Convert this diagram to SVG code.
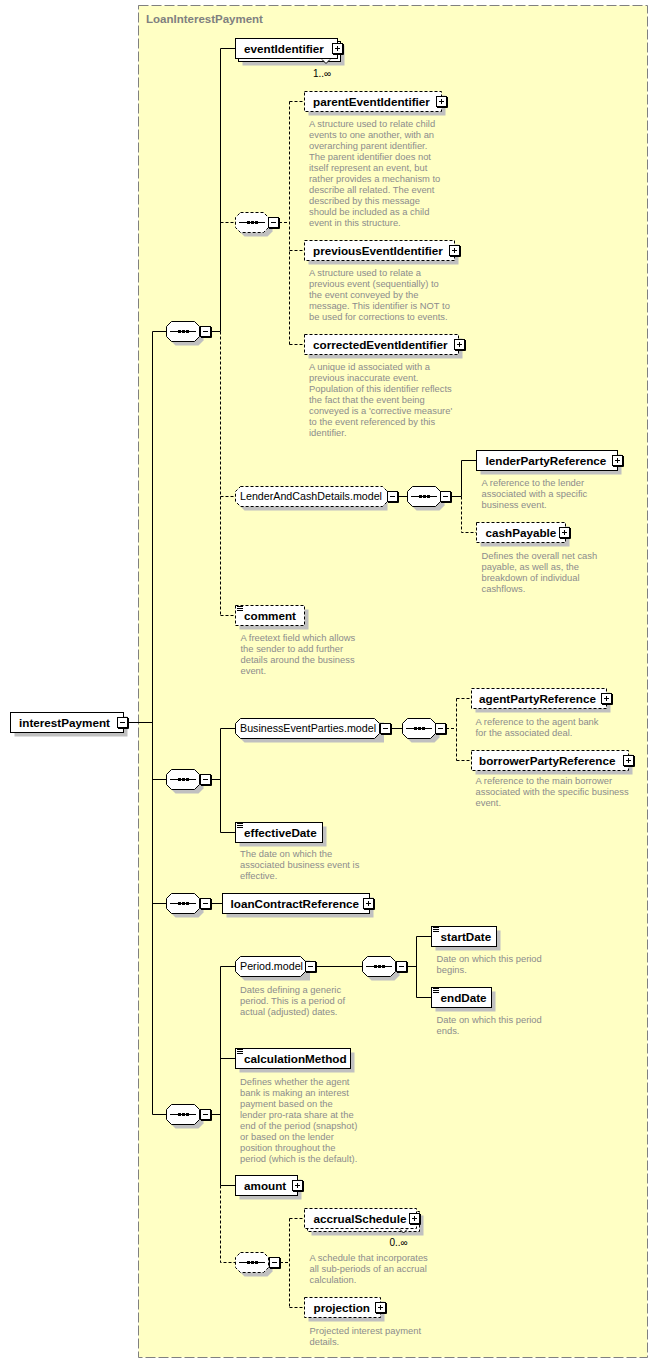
<svg xmlns="http://www.w3.org/2000/svg" width="657" height="1363" viewBox="0 0 657 1363">
<style>
.bx{fill:#fff;stroke:#000;stroke-width:1}
.db{fill:#fff;stroke:#000;stroke-width:1;stroke-dasharray:3,2}
.sh{fill:#c0c0c0}
.nm{font-family:"Liberation Sans",Arial,sans-serif;font-weight:bold;font-size:11.7px;fill:#000}
.md{font-family:"Liberation Sans",Arial,sans-serif;font-size:10.7px;fill:#000}
.ds{font-family:"Liberation Sans",Arial,sans-serif;font-size:9.4px;fill:#8c8c8c}
.oc{font-family:"Liberation Sans",Arial,sans-serif;font-size:10px;fill:#000}
.ln{stroke:#000;stroke-width:1;fill:none}
.dl{stroke:#000;stroke-width:1;fill:none;stroke-dasharray:3,2}
</style>
<defs>
<g id="mn"><rect x="0.5" y="0.5" width="10" height="10" fill="#fff" stroke="#000"/><path d="M1 11.5H11.5V1" stroke="#000" fill="none"/><path d="M3 5.5h5" stroke="#000"/></g>
<g id="pl"><rect x="0.5" y="0.5" width="10" height="10" fill="#fff" stroke="#000"/><path d="M1 11.5H11.5V1" stroke="#000" fill="none"/><path d="M3 5.5h5M5.5 3v5" stroke="#000"/></g>
<path id="oct" d="M5.5 0.5H28.5L33.5 5.5V15.5L28.5 20.5H5.5L0.5 15.5V5.5Z"/>
<g id="dots"><path d="M4 10.5H30" stroke="#000"/><rect x="12" y="9" width="3" height="3" fill="#000"/><rect x="16" y="9" width="3" height="3" fill="#000"/><rect x="20" y="9" width="3" height="3" fill="#000"/></g>
<g id="seqS"><use href="#oct" x="4" y="4" class="sh"/><use href="#oct" class="bx"/><use href="#dots"/></g>
<g id="seqD"><use href="#oct" x="4" y="4" class="sh"/><use href="#oct" class="db"/><use href="#dots"/></g>
<path id="ic" d="M2 1.5h6M2 3.5h6M2 5.5h6" stroke="#000" stroke-width="1"/>
</defs>

<rect x="0" y="0" width="657" height="1363" fill="#fff"/>
<g id="LoanInterestPayment">
<rect x="138.5" y="5.5" width="509" height="1352" fill="#ffffc4" stroke="#808080" stroke-dasharray="10,3"/>
<text x="146" y="23" font-family="Liberation Sans, Arial, sans-serif" font-weight="bold" font-size="11.5" fill="#808080">LoanInterestPayment</text>
</g>

<g id="connectors">
<path class="ln" d="M128 722.5H152.5M152.5 331.5V1114.5M152.5 331.5H166M152.5 779.5H166M152.5 903.5H166M152.5 1114.5H166"/>
<path class="ln" d="M211 331.5H220.5M220.5 331.5V48.5H235"/>
<path class="dl" d="M220.5 331.5V615.5M220.5 222.5H235M220.5 496.5H235M220.5 615.5H235"/>
<path class="dl" d="M279 222.5H289.5M289.5 101.5V344.5M289.5 101.5H304M289.5 250.5H304M289.5 344.5H304"/>
<path class="ln" d="M398 496.5H407M451 496.5H461.5M461.5 496.5V460.5H476"/>
<path class="dl" d="M461.5 496.5V532.5H476"/>
<path class="ln" d="M211 779.5H220.5M220.5 728.5V832.5M220.5 728.5H235M220.5 832.5H235"/>
<path class="ln" d="M391 728.5H402"/>
<path class="dl" d="M446 728.5H456.5M456.5 698.5V760.5M456.5 698.5H471M456.5 760.5H471"/>
<path class="ln" d="M211 903.5H222"/>
<path class="ln" d="M211 1114.5H220.5M220.5 966.5V1185.5M220.5 966.5H235M220.5 1058.5H235M220.5 1185.5H235"/>
<path class="dl" d="M220.5 1185.5V1262.5H235"/>
<path class="ln" d="M316 966.5H362M407 966.5H416.5M416.5 936.5V997.5M416.5 936.5H431M416.5 997.5H431"/>
<path class="dl" d="M280 1262.5H289.5M289.5 1218.5V1307.5M289.5 1218.5H304M289.5 1307.5H304"/>
</g>

<g id="interestPayment">
<rect class="sh" x="14.5" y="716.5" width="113" height="20"/>
<rect class="bx" x="10.5" y="712.5" width="113" height="20"/>
<text class="nm" x="19" y="726.5">interestPayment</text>
<use href="#mn" x="117" y="717"/>
</g>

<g id="seq1"><use href="#seqS" x="166" y="321"/><use href="#mn" x="200" y="326"/></g>

<g id="eventIdentifier">
<rect class="sh" x="242.5" y="45.5" width="102" height="20"/>
<rect class="bx" x="238.5" y="41.5" width="102" height="20"/>
<rect class="bx" x="235.5" y="38.5" width="102" height="20"/>
<path d="M322 59.5L326 63.5L330 59.5" fill="#fff" stroke="#000"/>
<text class="nm" x="244" y="52.5">eventIdentifier</text>
<use href="#pl" x="332" y="43"/>
<text class="oc" x="313" y="77">1..∞</text>
</g>

<g id="seq1a"><use href="#seqD" x="235" y="212"/><use href="#mn" x="268" y="217"/></g>

<g id="parentEventIdentifier">
<rect class="sh" x="308.5" y="95.5" width="137" height="20"/>
<rect class="db" x="304.5" y="91.5" width="137" height="20"/>
<text class="nm" x="313" y="105.5">parentEventIdentifier</text>
<use href="#pl" x="436" y="96"/>
<text class="ds" x="309" y="127.3"><tspan x="309">A structure used to relate child</tspan><tspan x="309" dy="11">events to one another, with an</tspan><tspan x="309" dy="11">overarching parent identifier.</tspan><tspan x="309" dy="11">The parent identifier does not</tspan><tspan x="309" dy="11">itself represent an event, but</tspan><tspan x="309" dy="11">rather provides a mechanism to</tspan><tspan x="309" dy="11">describe all related. The event</tspan><tspan x="309" dy="11">described by this message</tspan><tspan x="309" dy="11">should be included as a child</tspan><tspan x="309" dy="11">event in this structure.</tspan></text>
</g>

<g id="previousEventIdentifier">
<rect class="sh" x="308.5" y="244.5" width="150" height="20"/>
<rect class="db" x="304.5" y="240.5" width="150" height="20"/>
<text class="nm" x="313" y="254.5">previousEventIdentifier</text>
<use href="#pl" x="449" y="245"/>
<text class="ds" x="309" y="276"><tspan x="309">A structure used to relate a</tspan><tspan x="309" dy="11">previous event (sequentially) to</tspan><tspan x="309" dy="11">the event conveyed by the</tspan><tspan x="309" dy="11">message. This identifier is NOT to</tspan><tspan x="309" dy="11">be used for corrections to events.</tspan></text>
</g>

<g id="correctedEventIdentifier">
<rect class="sh" x="308.5" y="338.5" width="154" height="20"/>
<rect class="db" x="304.5" y="334.5" width="154" height="20"/>
<text class="nm" x="313" y="348.5">correctedEventIdentifier</text>
<use href="#pl" x="454" y="339"/>
<text class="ds" x="309" y="370"><tspan x="309">A unique id associated with a</tspan><tspan x="309" dy="11">previous inaccurate event.</tspan><tspan x="309" dy="11">Population of this identifier reflects</tspan><tspan x="309" dy="11">the fact that the event being</tspan><tspan x="309" dy="11">conveyed is a 'corrective measure'</tspan><tspan x="309" dy="11">to the event referenced by this</tspan><tspan x="309" dy="11">identifier.</tspan></text>
</g>

<g id="LenderAndCashDetails.model">
<path class="sh" d="M244.5 490.5H387.5V510.5H244.5L239.5 505.5V495.5Z"/>
<path class="db" d="M240.5 486.5H382.5L387.5 491.5V501.5L382.5 506.5H240.5L235.5 501.5V491.5Z"/>
<text class="md" x="240" y="500.3">LenderAndCashDetails.model</text>
<use href="#mn" x="387" y="491"/>
</g>

<g id="seq1b"><use href="#seqS" x="407" y="486"/><use href="#mn" x="440" y="491"/></g>

<g id="lenderPartyReference">
<rect class="sh" x="480.5" y="454.5" width="141" height="20"/>
<rect class="bx" x="476.5" y="450.5" width="141" height="20"/>
<text class="nm" x="485.5" y="464.5">lenderPartyReference</text>
<use href="#pl" x="612" y="455"/>
<text class="ds" x="481.5" y="486"><tspan x="481.5">A reference to the lender</tspan><tspan x="481.5" dy="11">associated with a specific</tspan><tspan x="481.5" dy="11">business event.</tspan></text>
</g>

<g id="cashPayable">
<rect class="sh" x="480.5" y="526.5" width="89" height="20"/>
<rect class="db" x="476.5" y="522.5" width="89" height="20"/>
<text class="nm" x="485.5" y="536.5">cashPayable</text>
<use href="#pl" x="559" y="527"/>
<text class="ds" x="481.5" y="558.5"><tspan x="481.5">Defines the overall net cash</tspan><tspan x="481.5" dy="11">payable, as well as, the</tspan><tspan x="481.5" dy="11">breakdown of individual</tspan><tspan x="481.5" dy="11">cashflows.</tspan></text>
</g>

<g id="comment">
<rect class="sh" x="239.5" y="609.5" width="69" height="20"/>
<rect class="db" x="235.5" y="605.5" width="69" height="20"/>
<use href="#ic" x="235" y="605"/>
<text class="nm" x="244" y="619.5">comment</text>
<text class="ds" x="240.5" y="641"><tspan x="240.5">A freetext field which allows</tspan><tspan x="240.5" dy="11">the sender to add further</tspan><tspan x="240.5" dy="11">details around the business</tspan><tspan x="240.5" dy="11">event.</tspan></text>
</g>

<g id="seq2"><use href="#seqS" x="166" y="769"/><use href="#mn" x="200" y="774"/></g>

<g id="BusinessEventParties.model">
<path class="sh" d="M244.5 722.5H384V742.5H244.5L239.5 737.5V727.5Z"/>
<path class="bx" d="M240.5 718.5H374.5L379.5 723.5V733.5L374.5 738.5H240.5L235.5 733.5V723.5Z"/>
<text class="md" x="240" y="732.3">BusinessEventParties.model</text>
<use href="#mn" x="380" y="723"/>
</g>

<g id="seq2a"><use href="#seqS" x="402" y="718"/><use href="#mn" x="435" y="723"/></g>

<g id="agentPartyReference">
<rect class="sh" x="475.5" y="692.5" width="135" height="20"/>
<rect class="db" x="471.5" y="688.5" width="135" height="20"/>
<text class="nm" x="479" y="702.5">agentPartyReference</text>
<use href="#pl" x="601" y="693"/>
<text class="ds" x="475.5" y="725"><tspan x="475.5">A reference to the agent bank</tspan><tspan x="475.5" dy="11">for the associated deal.</tspan></text>
</g>

<g id="borrowerPartyReference">
<rect class="sh" x="475.5" y="754.5" width="157" height="20"/>
<rect class="db" x="471.5" y="750.5" width="157" height="20"/>
<text class="nm" x="479" y="764.5">borrowerPartyReference</text>
<use href="#pl" x="623" y="755"/>
<text class="ds" x="475.5" y="784"><tspan x="475.5">A reference to the main borrower</tspan><tspan x="475.5" dy="11">associated with the specific business</tspan><tspan x="475.5" dy="11">event.</tspan></text>
</g>

<g id="effectiveDate">
<rect class="sh" x="239.5" y="826.5" width="87" height="20"/>
<rect class="bx" x="235.5" y="822.5" width="87" height="20"/>
<use href="#ic" x="235" y="822"/>
<text class="nm" x="244" y="836.5">effectiveDate</text>
<text class="ds" x="240" y="856.5"><tspan x="240">The date on which the</tspan><tspan x="240" dy="11">associated business event is</tspan><tspan x="240" dy="11">effective.</tspan></text>
</g>

<g id="seq3"><use href="#seqS" x="166" y="893"/><use href="#mn" x="200" y="898"/></g>

<g id="loanContractReference">
<rect class="sh" x="226.5" y="897.5" width="147" height="20"/>
<rect class="bx" x="222.5" y="893.5" width="147" height="20"/>
<text class="nm" x="230.5" y="907.5">loanContractReference</text>
<use href="#pl" x="363" y="898"/>
</g>

<g id="seq4"><use href="#seqS" x="166" y="1104"/><use href="#mn" x="200" y="1109"/></g>

<g id="Period.model">
<path class="sh" d="M244.5 960.5H310V980.5H244.5L239.5 975.5V965.5Z"/>
<path class="bx" d="M240.5 956.5H300.5L305.5 961.5V971.5L300.5 976.5H240.5L235.5 971.5V961.5Z"/>
<text class="md" x="240" y="970.3">Period.model</text>
<use href="#mn" x="305" y="961"/>
<text class="ds" x="240" y="992.5"><tspan x="240">Dates defining a generic</tspan><tspan x="240" dy="11">period. This is a period of</tspan><tspan x="240" dy="11">actual (adjusted) dates.</tspan></text>
</g>

<g id="seq4a"><use href="#seqS" x="362" y="956"/><use href="#mn" x="396" y="961"/></g>

<g id="startDate">
<rect class="sh" x="435.5" y="930.5" width="65" height="20"/>
<rect class="bx" x="431.5" y="926.5" width="65" height="20"/>
<use href="#ic" x="431" y="926"/>
<text class="nm" x="440.5" y="940.5">startDate</text>
<text class="ds" x="436.5" y="961.5"><tspan x="436.5">Date on which this period</tspan><tspan x="436.5" dy="11">begins.</tspan></text>
</g>

<g id="endDate">
<rect class="sh" x="435.5" y="991.5" width="60" height="20"/>
<rect class="bx" x="431.5" y="987.5" width="60" height="20"/>
<use href="#ic" x="431" y="987"/>
<text class="nm" x="440.5" y="1001.5">endDate</text>
<text class="ds" x="436.5" y="1022.5"><tspan x="436.5">Date on which this period</tspan><tspan x="436.5" dy="11">ends.</tspan></text>
</g>

<g id="calculationMethod">
<rect class="sh" x="239.5" y="1052.5" width="115" height="20"/>
<rect class="bx" x="235.5" y="1048.5" width="115" height="20"/>
<use href="#ic" x="235" y="1048"/>
<text class="nm" x="244" y="1062.5">calculationMethod</text>
<text class="ds" x="240" y="1084.5"><tspan x="240">Defines whether the agent</tspan><tspan x="240" dy="11">bank is making an interest</tspan><tspan x="240" dy="11">payment based on the</tspan><tspan x="240" dy="11">lender pro-rata share at the</tspan><tspan x="240" dy="11">end of the period (snapshot)</tspan><tspan x="240" dy="11">or based on the lender</tspan><tspan x="240" dy="11">position throughout the</tspan><tspan x="240" dy="11">period (which is the default).</tspan></text>
</g>

<g id="amount">
<rect class="sh" x="239.5" y="1179.5" width="62" height="20"/>
<rect class="bx" x="235.5" y="1175.5" width="62" height="20"/>
<text class="nm" x="244" y="1189.5">amount</text>
<use href="#pl" x="292" y="1180"/>
</g>

<g id="seq4b"><use href="#seqD" x="235" y="1252"/><use href="#mn" x="269" y="1257"/></g>

<g id="accrualSchedule">
<rect class="sh" x="311.5" y="1215.5" width="112" height="20"/>
<rect class="db" x="307.5" y="1211.5" width="112" height="20"/>
<rect class="db" x="304.5" y="1208.5" width="112" height="20"/>
<path d="M400 1229.5L403.5 1233L407 1229.5" fill="#fff" stroke="#000"/>
<text class="nm" x="313.5" y="1222.5">accrualSchedule</text>
<use href="#pl" x="409" y="1213"/>
<text class="oc" x="389.5" y="1246">0..∞</text>
<text class="ds" x="309.5" y="1261"><tspan x="309.5">A schedule that incorporates</tspan><tspan x="309.5" dy="11">all sub-periods of an accrual</tspan><tspan x="309.5" dy="11">calculation.</tspan></text>
</g>

<g id="projection">
<rect class="sh" x="308.5" y="1301.5" width="76" height="20"/>
<rect class="db" x="304.5" y="1297.5" width="76" height="20"/>
<text class="nm" x="313.5" y="1311.5">projection</text>
<use href="#pl" x="375" y="1302"/>
<text class="ds" x="309.5" y="1333.5"><tspan x="309.5">Projected interest payment</tspan><tspan x="309.5" dy="11">details.</tspan></text>
</g>
</svg>
